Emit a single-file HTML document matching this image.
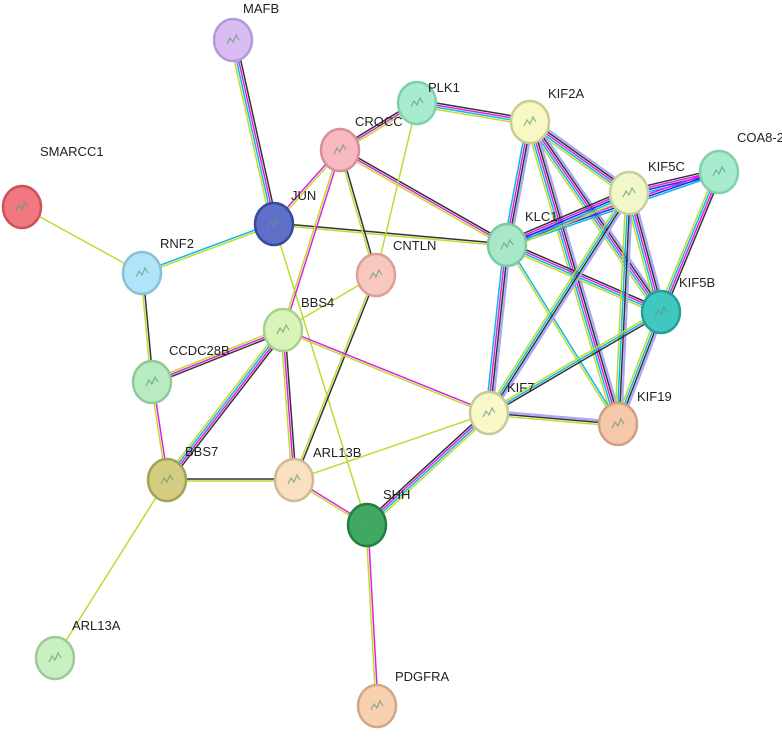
<!DOCTYPE html>
<html><head><meta charset="utf-8"><style>
html,body{margin:0;padding:0;background:#fff;width:782px;height:737px;overflow:hidden}
svg text{font-family:"Liberation Sans",sans-serif;font-size:13px;fill:#222}
</style></head><body>
<svg id="s" width="782" height="737" viewBox="0 0 782 737" xmlns="http://www.w3.org/2000/svg">
<g id="edges"></g>
<g id="nodes"></g>
<g id="labels">
<text x="243" y="13">MAFB</text>
<text x="428" y="92">PLK1</text>
<text x="548" y="98">KIF2A</text>
<text x="737" y="142">COA8-2</text>
<text x="355" y="126">CROCC</text>
<text x="648" y="171">KIF5C</text>
<text x="40" y="156">SMARCC1</text>
<text x="291" y="200">JUN</text>
<text x="525" y="221">KLC1</text>
<text x="393" y="250">CNTLN</text>
<text x="160" y="248">RNF2</text>
<text x="679" y="287">KIF5B</text>
<text x="301" y="307">BBS4</text>
<text x="169" y="355">CCDC28B</text>
<text x="507" y="392">KIF7</text>
<text x="637" y="401">KIF19</text>
<text x="185" y="456">BBS7</text>
<text x="313" y="457">ARL13B</text>
<text x="383" y="499">SHH</text>
<text x="72" y="630">ARL13A</text>
<text x="395" y="681">PDGFRA</text>
</g>
</svg>
<script>
var N={MAFB:[233,40,'#d8bcf2','#b49ad8'],PLK1:[417,103,'#a8ecd0','#80d0a8'],KIF2A:[530,122,'#f8f8c4','#cccc90'],COA8:[719,172,'#a8ecd0','#80d0a8'],
CROCC:[340,150,'#f8b8c0','#d89098'],KIF5C:[629,193,'#f0f8c8','#c8d098'],SMARCC1:[22,207,'#f07880','#d05058'],JUN:[274,224,'#6070c8','#3848a0'],
KLC1:[507,245,'#a8e8c8','#80c8a0'],CNTLN:[376,275,'#f8c8c0','#d8a098'],RNF2:[142,273,'#b0e4f8','#88c0d8'],KIF5B:[661,312,'#40c8c0','#20a098'],
BBS4:[283,330,'#d8f4b8','#a8d090'],CCDC28B:[152,382,'#b8ecc0','#90c898'],KIF7:[489,413,'#f8f8c8','#c8c898'],KIF19:[618,424,'#f4c8a8','#d0a080'],
BBS7:[167,480,'#d4cc80','#a8a058'],ARL13B:[294,480,'#f8e0c0','#d0b898'],SHH:[367,525,'#40a860','#208040'],ARL13A:[55,658,'#c8f0c0','#a0c898'],PDGFRA:[377,706,'#f8d0b0','#d0a888']};
var C={k:'#333',m:'#e020e0',c:'#10b8e0',y:'#bcdc30',l:'#a8a8f8',b:'#2030f0'};
var E=[['MAFB','JUN','kmcy'],['SMARCC1','RNF2','y'],['RNF2','JUN','cy'],['RNF2','CCDC28B','ky'],['JUN','CROCC','my'],['JUN','KLC1','ky'],['JUN','SHH','y'],
['CROCC','PLK1','kmy'],['CROCC','KLC1','kmy'],['CROCC','CNTLN','ky'],['CROCC','BBS4','my'],['PLK1','KIF2A','kmcy'],['PLK1','CNTLN','y'],['CNTLN','BBS4','y'],
['CNTLN','ARL13B','ky'],['BBS4','CCDC28B','kmy'],['BBS4','BBS7','kmcy'],['BBS4','ARL13B','kmy'],['BBS4','KIF7','my'],['CCDC28B','BBS7','my'],['BBS7','ARL13B','ky'],
['BBS7','ARL13A','y'],['ARL13B','SHH','my'],['ARL13B','KIF7','y'],['SHH','KIF7','kmcy'],['SHH','PDGFRA','my'],['KIF2A','KLC1','lkmc'],['KIF2A','KIF5C','lkmcy'],
['KIF2A','KIF5B','lkmcy'],['KIF2A','KIF19','lkmcy'],['KIF5C','COA8','kmbc'],['KLC1','COA8','mbc'],['KLC1','KIF5C','kmbcy'],['KLC1','KIF5B','kmcy'],['KLC1','KIF7','lkmc'],
['KLC1','KIF19','cy'],['KIF5C','KIF7','lkcy'],['KIF5C','KIF5B','lkmcy'],['KIF5C','KIF19','lkcy'],['COA8','KIF5B','kmcy'],['KIF5B','KIF7','kcy'],['KIF5B','KIF19','lkcy'],['KIF7','KIF19','lky']];
var ns='http://www.w3.org/2000/svg',eg=document.getElementById('edges'),ng=document.getElementById('nodes');
E.forEach(function(e){var a=N[e[0]],b=N[e[1]],dx=b[0]-a[0],dy=b[1]-a[1],L=Math.sqrt(dx*dx+dy*dy),px=-dy/L,py=dx/L,n=e[2].length;
for(var i=0;i<n;i++){var o=(i-(n-1)/2)*2.1,l=document.createElementNS(ns,'line');
l.setAttribute('x1',a[0]+px*o);l.setAttribute('y1',a[1]+py*o);l.setAttribute('x2',b[0]+px*o);l.setAttribute('y2',b[1]+py*o);
l.setAttribute('stroke',C[e[2][i]]);l.setAttribute('stroke-width',e[2][i]=='l'?'2.2':'1.5');eg.appendChild(l);}});
for(var k in N){var v=N[k],c=document.createElementNS(ns,'ellipse');c.setAttribute('cx',v[0]);c.setAttribute('cy',v[1]);c.setAttribute('rx',19);c.setAttribute('ry',21);
c.setAttribute('fill',v[2]);c.setAttribute('stroke',v[3]);c.setAttribute('stroke-width',2.5);ng.appendChild(c);
var s=document.createElementNS(ns,'path');s.setAttribute('d','M'+(v[0]-6)+' '+(v[1]+4)+' l3 -6 l3 4 l3 -7 l3 5');s.setAttribute('stroke','#5a9a7a');s.setAttribute('fill','none');s.setAttribute('stroke-width','1.2');s.setAttribute('opacity','0.7');ng.appendChild(s);}
</script>
</body></html>
